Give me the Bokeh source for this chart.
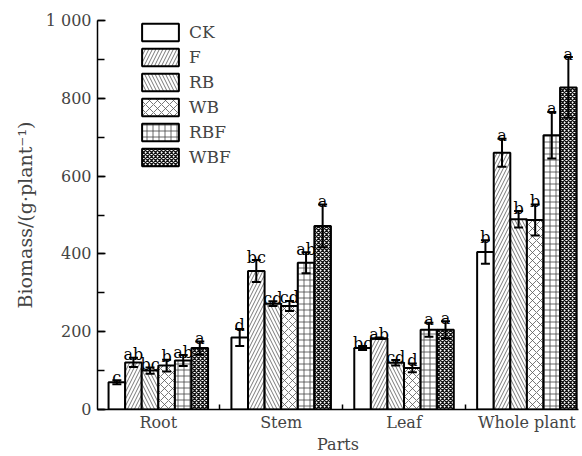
from bokeh.plotting import figure
from bokeh.models import (ColumnDataSource, Whisker, TeeHead, Legend, LegendItem,
                          FixedTicker, SingleIntervalTicker, Range1d,
                          CustomJSTickFormatter)
from bokeh.core.properties import value
from bokeh.embed import file_html
from bokeh.resources import INLINE

# ---- data ----
parts = ["Root", "Stem", "Leaf", "Whole plant"]
treatments = ["CK", "F", "RB", "WB", "RBF", "WBF"]

ck_mean = [70, 185, 158, 405]
ck_err = [5, 22, 5, 30]
ck_sig = ["c", "d", "bc", "b"]

f_mean = [121, 356, 183, 660]
f_err = [12, 28, 2, 36]
f_sig = ["ab", "bc", "ab", "a"]

rb_mean = [100, 272, 120, 489]
rb_err = [8, 6, 7, 21]
rb_sig = ["bc", "cd", "cd", "b"]

wb_mean = [113, 266, 107, 487]
wb_err = [15, 13, 11, 40]
wb_sig = ["b", "cd", "d", "b"]

rbf_mean = [126, 377, 205, 705]
rbf_err = [14, 27, 18, 60]
rbf_sig = ["ab", "ab", "a", "a"]

wbf_mean = [158, 472, 205, 828]
wbf_err = [17, 55, 22, 78]
wbf_sig = ["a", "a", "a", "a"]

means = [ck_mean, f_mean, rb_mean, wb_mean, rbf_mean, wbf_mean]
errs = [ck_err, f_err, rb_err, wb_err, rbf_err, wbf_err]
sigs = [ck_sig, f_sig, rb_sig, wb_sig, rbf_sig, wbf_sig]

# ---- styles ----
FONT = "DejaVu Serif"
styles = [
    dict(),
    dict(hatch_pattern="/", hatch_scale=7, hatch_color="#555555", hatch_weight=0.8),
    dict(hatch_pattern="\\", hatch_scale=7, hatch_color="#555555", hatch_weight=0.8),
    dict(hatch_pattern="x", hatch_scale=8, hatch_color="#555555", hatch_weight=0.8),
    dict(hatch_pattern="+", hatch_scale=6, hatch_color="#444444", hatch_weight=0.8),
    dict(hatch_pattern="x", hatch_scale=4, hatch_color="#111111", hatch_weight=1.3),
]
bar_w = 0.135

p = figure(width=582, height=456, output_backend="svg", toolbar_location=None,
           x_range=Range1d(-0.495, 3.42), y_range=Range1d(0, 1000),
           min_border_left=97, min_border_top=20, min_border_bottom=46,
           min_border_right=4)
p.outline_line_color = None
p.xgrid.grid_line_color = None
p.ygrid.grid_line_color = None
p.background_fill_color = "white"

items = []
for i, name in enumerate(treatments):
    xs = [j + (i - 2.5) * bar_w for j in range(len(parts))]
    src = ColumnDataSource(dict(
        x=xs, top=means[i],
        upper=[m + e for m, e in zip(means[i], errs[i])],
        lower=[m - e for m, e in zip(means[i], errs[i])],
        sig=sigs[i]))
    r = p.vbar(x="x", top="top", bottom=0, width=bar_w, source=src,
               fill_color="white", line_color="black", line_width=2,
               **styles[i])
    items.append(LegendItem(label=name, renderers=[r]))
    w = Whisker(base="x", upper="upper", lower="lower", source=src,
                line_color="black", line_width=2, level="overlay",
                upper_head=TeeHead(size=9, line_width=2, line_color="black"),
                lower_head=TeeHead(size=9, line_width=2, line_color="black"))
    p.add_layout(w)
    p.text(x="x", y="upper", text="sig", source=src,
           text_font=value(FONT), text_font_size="16px",
           text_align="center", text_baseline="alphabetic", y_offset=-3,
           text_color="black")

legend = Legend(items=items, location=(40, 241), glyph_width=46, glyph_height=22,
                label_height=22, spacing=3, padding=0, margin=0,
                border_line_alpha=0, background_fill_alpha=0,
                label_text_font=FONT, label_text_font_size="17px",
                label_standoff=6)
p.add_layout(legend)

# y axis
ya = p.yaxis[0]
ya.ticker = SingleIntervalTicker(interval=200, num_minor_ticks=2)
ya.formatter = CustomJSTickFormatter(code="return tick == 1000 ? '1 000' : tick.toFixed(0);")
ya.major_tick_in = 8
ya.major_tick_out = 0
ya.minor_tick_in = 7
ya.minor_tick_out = 0
ya.axis_line_width = 1.5
ya.major_tick_line_width = 1.5
ya.minor_tick_line_width = 1.5
ya.major_label_text_font = FONT
ya.major_label_text_font_size = "16px"
ya.major_label_standoff = 6
ya.axis_label = "Biomass/(g·plant⁻¹)"
ya.axis_label_text_font = FONT
ya.axis_label_text_font_size = "19px"
ya.axis_label_text_font_style = "normal"
ya.axis_label_standoff = 7

# x axis
xa = p.xaxis[0]
xa.ticker = FixedTicker(ticks=list(range(len(parts))),
                        minor_ticks=[j + 0.5 for j in range(len(parts) - 1)])
xa.formatter = CustomJSTickFormatter(args=dict(names=parts),
                                     code="return names[Math.round(tick)];")
xa.major_tick_in = 0
xa.major_tick_out = 0
xa.minor_tick_in = 5
xa.minor_tick_out = 0
xa.axis_line_width = 1.5
xa.minor_tick_line_width = 1.5
xa.major_label_text_font = FONT
xa.major_label_text_font_size = "16px"
xa.major_label_standoff = 3
xa.axis_label = "Parts"
xa.axis_label_text_font = FONT
xa.axis_label_text_font_size = "16px"
xa.axis_label_text_font_style = "normal"
xa.axis_label_standoff = 0

open("out.html", "w").write(file_html(p, INLINE))
